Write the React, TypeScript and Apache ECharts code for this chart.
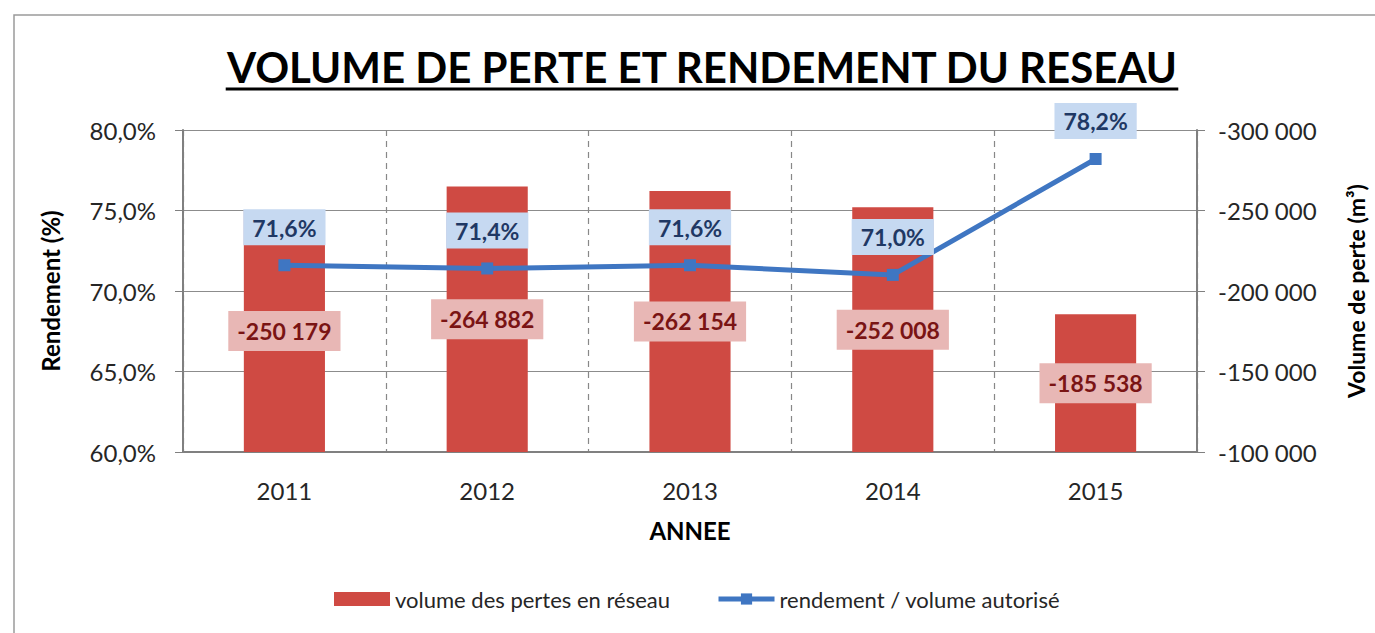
import React, { useEffect, useRef } from 'react';
import * as echarts from 'echarts';

const years = ['2011', '2012', '2013', '2014', '2015'];
const lossVolumes = [-250179, -264882, -262154, -252008, -185538];
const yieldPct = [71.6, 71.4, 71.6, 71.0, 78.2];
const leftMin = 60;
const leftMax = 80;
const leftStep = 5;
const rightMin = -300000;
const rightMax = -100000;
const rightStep = 50000;

const titleText = 'VOLUME DE PERTE ET RENDEMENT DU RESEAU';
const barName = 'volume des pertes en réseau';
const lineName = 'rendement / volume autorisé';

const FONT = 'Lato, "Open Sans", "DejaVu Sans", sans-serif';

const fmtThousands = (v: number) => {
  const s = Math.abs(Math.round(v)).toString().replace(/\B(?=(\d{3})+(?!\d))/g, ' ');
  return (v < 0 ? '-' : '') + s;
};
const fmtPct = (v: number) => v.toFixed(1).replace('.', ',') + '%';

export default function App() {
  const ref = useRef<HTMLDivElement>(null);
  useEffect(() => {
    if (!ref.current) return;
    const chart = echarts.init(ref.current, null, { renderer: 'svg' });

    const titleSize = 42;
    const titleCx = 702;
    const titleY = 67;
    let titleW = 948;
    try {
      const c = document.createElement('canvas').getContext('2d');
      if (c) {
        c.font = `bold ${titleSize}px ${FONT}`;
        titleW = c.measureText(titleText).width;
      }
    } catch (e) {}

    const base = rightMax;
    const option: any = {
      animation: false,
      backgroundColor: '#ffffff',
      textStyle: { fontFamily: FONT },
      graphic: [
        {
          type: 'rect',
          shape: { x: 14, y: 15, width: 1420, height: 700 },
          style: { fill: 'none', stroke: '#9a9a9a', lineWidth: 1.5 },
          silent: true,
        },
        {
          type: 'text',
          x: titleCx,
          y: titleY,
          style: {
            text: titleText,
            font: `bold ${titleSize}px ${FONT}`,
            fill: '#000000',
            textAlign: 'center',
            textVerticalAlign: 'middle',
          },
        },
        {
          type: 'line',
          shape: { x1: titleCx - titleW / 2, y1: 89, x2: titleCx + titleW / 2, y2: 89 },
          style: { stroke: '#000000', lineWidth: 3 },
        },
      ],
      legend: {
        bottom: 18,
        left: 329,
        itemWidth: 56,
        itemHeight: 14,
        itemGap: 46,
        textStyle: { fontSize: 22, color: '#262626', fontFamily: FONT },
        data: [
          { name: barName, icon: 'rect' },
          { name: lineName, lineStyle: { width: 5 } },
        ],
      },
      grid: { left: 183, right: 178, top: 130, bottom: 181, containLabel: false, outerBoundsMode: 'none' },
      xAxis: {
        type: 'category',
        data: years,
        name: 'ANNEE',
        nameLocation: 'middle',
        nameGap: 66,
        nameTextStyle: { fontSize: 24, fontWeight: 'bold', color: '#000' },
        axisLine: { lineStyle: { color: '#808080', width: 2 } },
        axisTick: { show: false },
        axisLabel: { fontSize: 24, color: '#262626', margin: 26 },
        splitLine: { show: true, lineStyle: { color: '#888', type: [6, 5], width: 1.2 } },
      },
      yAxis: [
        {
          type: 'value',
          min: leftMin,
          max: leftMax,
          interval: leftStep,
          name: 'Rendement (%)',
          nameLocation: 'middle',
          nameGap: 121,
          nameTextStyle: { fontSize: 24, fontWeight: 'bold', color: '#000' },
          axisLine: { show: true, lineStyle: { color: '#808080', width: 2 } },
          axisTick: { show: true, length: 8, lineStyle: { color: '#808080' } },
          axisLabel: { fontSize: 24, color: '#262626', margin: 27, formatter: (v: number) => fmtPct(v) },
          splitLine: { show: true, lineStyle: { color: '#8c8c8c', width: 1.2 } },
        },
        {
          type: 'value',
          min: rightMin,
          max: rightMax,
          interval: rightStep,
          inverse: true,
          position: 'right',
          name: 'Volume de perte (m³)',
          nameLocation: 'middle',
          nameGap: 147,
          nameRotate: 90,
          nameTextStyle: { fontSize: 23, fontWeight: 'bold', color: '#000' },
          axisLine: { show: true, lineStyle: { color: '#808080', width: 2 } },
          axisTick: { show: true, length: 8, lineStyle: { color: '#808080' } },
          axisLabel: { fontSize: 24, color: '#262626', margin: 21, formatter: (v: number) => fmtThousands(v) },
          splitLine: { show: false },
        },
      ],
      series: [
        {
          name: '__base',
          type: 'bar',
          yAxisIndex: 1,
          stack: 'loss',
          data: lossVolumes.map(() => base),
          itemStyle: { color: 'rgba(0,0,0,0)' },
          silent: true,
          barWidth: '40%',
        },
        {
          name: barName,
          type: 'bar',
          yAxisIndex: 1,
          stack: 'loss',
          barWidth: '40%',
          data: lossVolumes.map((v) => v - base),
          itemStyle: { color: '#CF4A43' },
          label: {
            show: true,
            position: 'inside',
            formatter: (p: any) => fmtThousands(lossVolumes[p.dataIndex]),
            fontSize: 23,
            fontWeight: 'bold',
            color: '#7A1414',
            backgroundColor: '#E8B7B5',
            padding: [9, 9, 8, 9],
          },
        },
        {
          name: lineName,
          type: 'line',
          yAxisIndex: 0,
          data: yieldPct,
          symbol: 'rect',
          symbolSize: 12,
          lineStyle: { color: '#3F76C2', width: 5 },
          itemStyle: { color: '#3F76C2' },
          label: {
            show: true,
            position: 'top',
            distance: 14,
            formatter: (p: any) => fmtPct(p.value),
            fontSize: 23,
            fontWeight: 'bold',
            color: '#1F3864',
            backgroundColor: '#C6D9F1',
            padding: [7, 9, 6, 9],
          },
          z: 5,
        },
      ],
    };
    chart.setOption(option);
    return () => chart.dispose();
  }, []);
  return (
    <div
      ref={ref}
      style={{ position: 'fixed', left: 0, top: 0, width: 1375, height: 633 }}
    />
  );
}
